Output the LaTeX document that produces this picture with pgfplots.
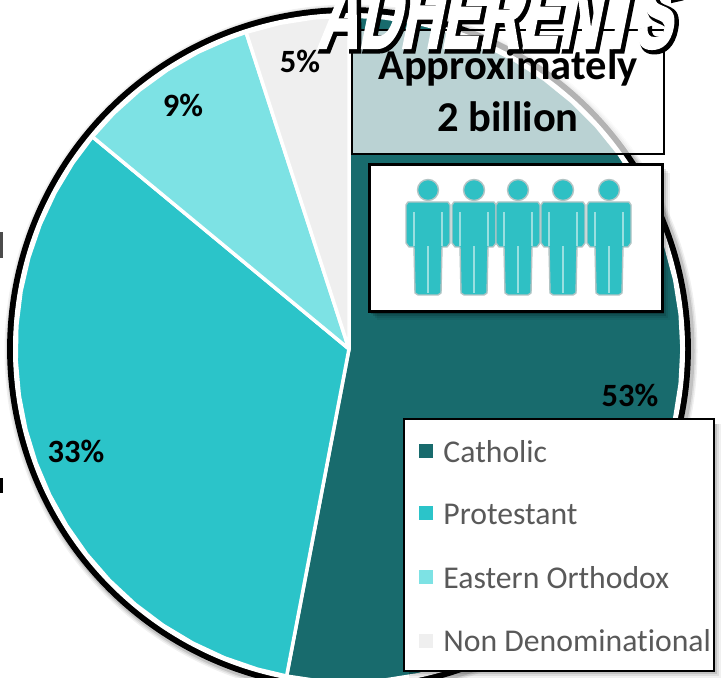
\documentclass[border=0pt]{standalone}
\usepackage{pgfplots}
\pgfplotsset{compat=1.18}
\usepackage{fontspec}
\setmainfont{Carlito}[Ligatures=NoCommon]
\newfontfamily\titlefont{Liberation Sans}
\definecolor{cath}{HTML}{186B6D}
\definecolor{prot}{HTML}{2BC4C9}
\definecolor{orth}{HTML}{7DE2E4}
\definecolor{nond}{HTML}{EFEFEF}
\definecolor{legtxt}{HTML}{595959}
\definecolor{pers}{HTML}{2FC0C4}
\definecolor{persl}{HTML}{9ADFE0}
\definecolor{persg}{HTML}{B2C4C4}
\newcommand{\lab}[1]{\fontsize{32.5}{32.5}\selectfont\bfseries #1}
\begin{document}
\begin{tikzpicture}
\useasboundingbox (0,0) rectangle (727pt,677pt);
\clip (0,0) rectangle (727pt,677pt);
\begin{axis}[
  at={(0,0)},anchor=south west,
  width=727pt,height=677pt,scale only axis,hide axis,clip=false,
  xmin=-349,xmax=378,ymin=-328,ymax=349,
  data cs=polar,
  legend image code/.code={\fill[#1,draw=none] (0pt,4pt) rectangle (14pt,18pt);\path (22.5pt,0pt);},
  legend cell align=left,
  legend style={at={(axis cs:70,-91)},anchor=north west,draw=none,fill=none,
    font=\fontsize{31.7}{31.7}\selectfont\color{legtxt},
    inner xsep=0pt,inner ysep=0pt,row sep=40pt,
    nodes={inner sep=0pt,anchor=base west}},
]
% soft shadow and black ring of the pie
\draw[black,opacity=0.06,line width=15pt] (2,-2) circle [radius=339];
\draw[black,opacity=0.08,line width=12pt] (2,-2) circle [radius=339];
\draw[black,opacity=0.12,line width=9pt] (2,-2) circle [radius=339];
\draw[black,line width=6.2pt] (0,0) circle [radius=338.8];
\fill[white] (0,0) circle [radius=336];
% Catholic 53%
\addplot[fill=cath,draw=white,line width=3.5pt,line join=round] coordinates {
(0,0)(90,333)(84,333)(78,333)(72,333)(66,333)(60,333)(54,333)(48,333)(42,333)(36,333)(30,333)
(24,333)(18,333)(12,333)(6,333)(0,333)(-6,333)(-12,333)(-18,333)(-24,333)(-30,333)(-36,333)
(-42,333)(-48,333)(-54,333)(-60,333)(-66,333)(-72,333)(-78,333)(-84,333)(-90,333)(-96,333)(-100.8,333)
} -- cycle;
% Protestant 33%
\addplot[fill=prot,draw=white,line width=3.5pt,line join=round] coordinates {
(0,0)(-100.8,333)(-106,333)(-112,333)(-118,333)(-124,333)(-130,333)(-136,333)(-142,333)(-148,333)
(-154,333)(-160,333)(-166,333)(-172,333)(-178,333)(-184,333)(-190,333)(-196,333)(-202,333)(-208,333)
(-214,333)(-219.6,333)
} -- cycle;
% Eastern Orthodox 9%
\addplot[fill=orth,draw=white,line width=3.5pt,line join=round] coordinates {
(0,0)(140.4,333)(135,333)(129,333)(123,333)(117,333)(111,333)(108,333)
} -- cycle;
% Non Denominational 5%
\addplot[fill=nond,draw=white,line width=3.5pt,line join=round] coordinates {
(0,0)(108,333)(102,333)(96,333)(90,333)
} -- cycle;
% legend box and its shadow
\fill[black,opacity=0.06] (60,-75) rectangle (372,-329);
\fill[black,opacity=0.08] (60,-75) rectangle (370,-327);
\fill[black,opacity=0.12] (60,-75) rectangle (368,-325);
\fill[white,draw=black,line width=1.4pt] (55,-70) rectangle (365,-322);
\legend{Catholic,Protestant,Eastern Orthodox,Non Denominational}
\end{axis}
\begin{scope}[x=1pt,y=-1pt,shift={(0,677pt)}]
  % value labels
  \node at (630,395) {\lab{53\%}};
  \node at (76,451) {\lab{33\%}};
  \node at (183,105) {\lab{9\%}};
  \node at (300,61) {\lab{5\%}};
  % box with the number of adherents
  \fill[white,opacity=0.7] (352,30) rectangle (664,154);
  \draw[black,line width=1.2pt] (352,30) rectangle (664,154);
  \node[anchor=base] at (508,80) {\fontsize{42.5}{42.5}\selectfont\bfseries Approximately};
  \node[anchor=base] at (508,132) {\fontsize{42.5}{42.5}\selectfont\bfseries 2 billion};
  % box with the figures
  \foreach \d/\o in {8/0.06,6/0.08,4/0.12,2/0.2}{
    \fill[black,opacity=\o] (369+\d,165+\d) rectangle (662+\d,312+\d);
  }
  \fill[white] (369,165) rectangle (662,312);
  \draw[black,line width=3pt] (369,165) rectangle (662,312);
  \foreach \x in {428,474,518,563,609}{
    \fill[pers,draw=persg,line width=1.4pt] (\x,190) circle [radius=10.5];
    \path[fill=pers,draw=persg,line width=1.4pt,line join=round]
      (\x-20,202)--(\x+20,202)--(\x+22,205)--(\x+22,243)--(\x+19,247)--(\x+14,247)--(\x+13,293)--(\x+10,295)
      --(\x-10,295)--(\x-13,293)--(\x-14,247)--(\x-19,247)--(\x-22,243)--(\x-22,205)--cycle;
    \draw[persl,line width=1.4pt] (\x-14,212)--(\x-14,246);
    \draw[persl,line width=1.4pt] (\x+14,212)--(\x+14,246);
    \draw[persl,line width=1.4pt] (\x,246)--(\x,293);
  }
  % fragments at the left edge
  \fill[black!70] (0,232) rectangle (2.5,258);
  \fill[black] (0,478) rectangle (2.5,493);
\end{scope}
% title
\node[anchor=base,xslant=0.2,xscale=0.57,transform shape] at (497pt,627pt)
    {\fontsize{100}{100}\selectfont\titlefont\bfseries\special{pdf:code 2 Tr 7 w 0 0 0 RG 0 0 0 rg}ADHERENTS\special{pdf:code 0 Tr}};
\node[anchor=base,xslant=0.2,xscale=0.57,transform shape] at (494pt,629pt)
  {\fontsize{100}{100}\selectfont\titlefont\bfseries\special{pdf:code 2 Tr 2.2 w 1 1 1 RG 1 1 1 rg}ADHERENTS\special{pdf:code 0 Tr}};
\end{tikzpicture}
\end{document}
